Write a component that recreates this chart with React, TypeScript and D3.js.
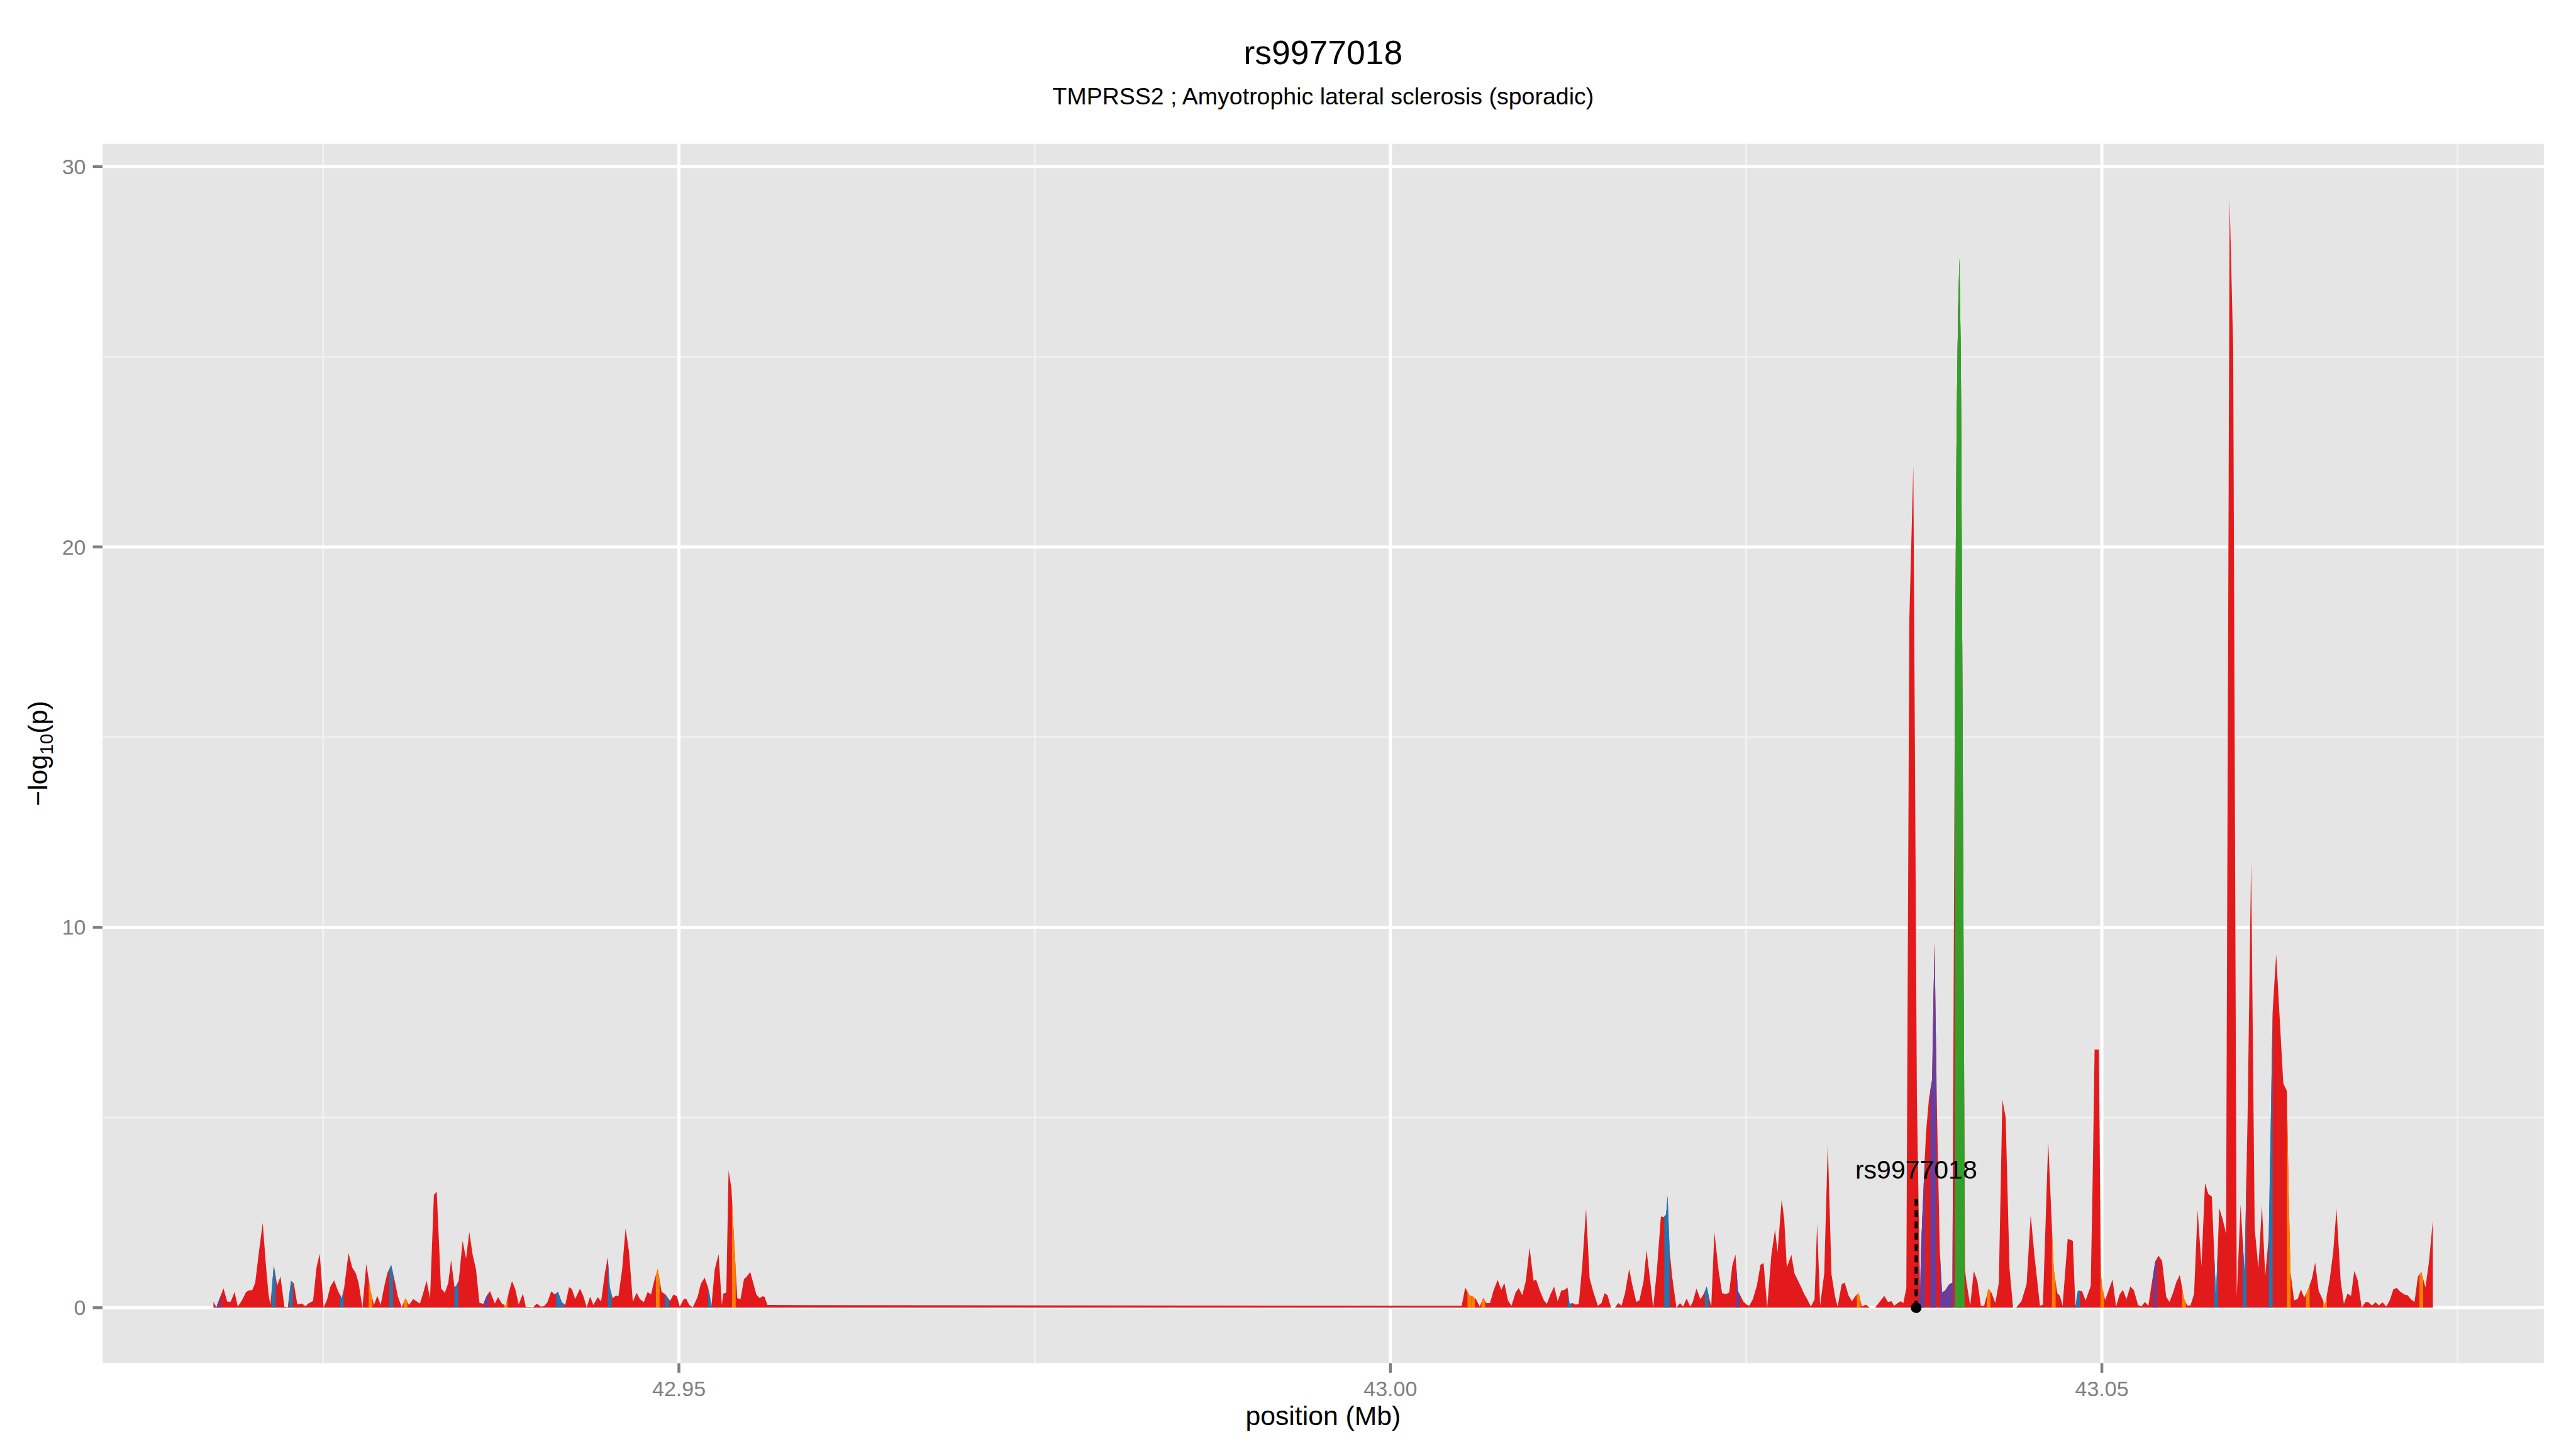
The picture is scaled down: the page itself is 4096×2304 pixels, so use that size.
import React from 'react';
import * as d3 from 'd3';

// ---------------- text & axis constants ----------------
const titleText = 'rs9977018';
const subtitleText = 'TMPRSS2 ; Amyotrophic lateral sclerosis (sporadic)';
const xAxisTitle = 'position (Mb)';
const leadSnpName = 'rs9977018';
const leadSnpPos = 43.03695;
const leadStemTop = 2.88;
const leadLabelY = 3.39;

const xMajorTicks = [42.95, 43.0, 43.05];
const xMinorTicks = [42.925, 42.975, 43.025, 43.075];
const yMajorTicks = [0, 10, 20, 30];
const yMinorTicks = [5, 15, 25];

const ldColours: Record<string, string> = {
  r: '#E31A1C',
  b: '#1F78B4',
  o: '#FF7F00',
  p: '#6A3D9A',
  g: '#33A02C',
};

// ---------------- SNPs: position (Mb), -log10(p), LD class ----------------
const leftCluster: [number, number, string][] = [
  [42.91729, 0.16, 'r'], [42.91749, 0.01, 'r'], [42.91766, 0.18, 'p'], [42.91799, 0.51, 'r'],
  [42.91826, 0.16, 'r'], [42.9185, 0.16, 'r'], [42.91877, 0.41, 'r'], [42.919, 0.03, 'r'],
  [42.91927, 0.18, 'r'], [42.91958, 0.41, 'r'], [42.91981, 0.46, 'r'], [42.92001, 0.46, 'r'],
  [42.92022, 0.65, 'r'], [42.92049, 1.48, 'r'], [42.92075, 2.23, 'r'], [42.92099, 1.05, 'r'],
  [42.92116, 0.35, 'r'], [42.92129, 0.07, 'r'], [42.92153, 1.11, 'b'], [42.92177, 0.58, 'r'],
  [42.922, 0.82, 'r'], [42.92227, 0.03, 'r'], [42.92251, 0.01, 'r'], [42.92274, 0.71, 'b'],
  [42.92294, 0.64, 'r'], [42.92318, 0.09, 'r'], [42.92352, 0.11, 'r'], [42.92375, 0.04, 'r'],
  [42.92395, 0.11, 'r'], [42.92429, 0.18, 'r'], [42.92453, 1.05, 'r'], [42.92476, 1.42, 'r'],
  [42.92503, 0.01, 'r'], [42.92527, 0.21, 'r'], [42.9255, 0.55, 'r'], [42.92577, 0.72, 'r'],
  [42.92604, 0.44, 'r'], [42.92631, 0.25, 'b'], [42.92648, 0.54, 'r'], [42.92678, 1.43, 'r'],
  [42.92705, 1.05, 'r'], [42.92729, 0.91, 'r'], [42.92749, 0.65, 'r'], [42.92776, 0.0, 'r'],
  [42.92803, 1.15, 'r'], [42.92833, 0.44, 'o'], [42.92857, 0.07, 'r'], [42.9288, 0.31, 'r'],
  [42.92904, 0.07, 'r'], [42.92928, 0.54, 'r'], [42.92951, 0.91, 'r'], [42.92978, 1.12, 'b'],
  [42.93002, 0.72, 'r'], [42.93025, 0.3, 'r'], [42.93052, 0.01, 'r'], [42.93079, 0.25, 'o'],
  [42.93103, 0.07, 'r'], [42.93133, 0.23, 'r'], [42.9316, 0.16, 'r'], [42.9318, 0.11, 'r'],
  [42.932, 0.35, 'r'], [42.93227, 0.71, 'r'], [42.93251, 0.24, 'r'], [42.93278, 2.96, 'r'],
  [42.93298, 3.05, 'r'], [42.93328, 0.51, 'r'], [42.93355, 0.39, 'r'], [42.93379, 0.65, 'r'],
  [42.93399, 1.25, 'r'], [42.93423, 0.54, 'r'], [42.93436, 0.58, 'b'], [42.93453, 0.72, 'r'],
  [42.9348, 1.76, 'r'], [42.93504, 1.29, 'r'], [42.93527, 1.99, 'r'], [42.93551, 1.38, 'r'],
  [42.93574, 1.01, 'r'], [42.93598, 0.13, 'r'], [42.93625, 0.1, 'r'], [42.93648, 0.3, 'p'],
  [42.93672, 0.44, 'r'], [42.93706, 0.11, 'r'], [42.93729, 0.28, 'r'], [42.93756, 0.11, 'r'],
  [42.93783, 0.05, 'o'], [42.93807, 0.44, 'r'], [42.93827, 0.7, 'r'], [42.9385, 0.49, 'r'],
  [42.93874, 0.09, 'r'], [42.93904, 0.37, 'r'], [42.93924, 0.02, 'r'], [42.93951, 0.02, 'o'],
  [42.93975, 0.01, 'r'], [42.94002, 0.11, 'r'], [42.94029, 0.03, 'r'], [42.94052, 0.04, 'r'],
  [42.94076, 0.14, 'r'], [42.94103, 0.43, 'r'], [42.94127, 0.35, 'r'], [42.9415, 0.42, 'b'],
  [42.94177, 0.14, 'b'], [42.94201, 0.07, 'r'], [42.94228, 0.54, 'r'], [42.94248, 0.49, 'r'],
  [42.94271, 0.23, 'r'], [42.94305, 0.5, 'r'], [42.94329, 0.3, 'r'], [42.94352, 0.01, 'r'],
  [42.94376, 0.29, 'r'], [42.94399, 0.07, 'r'], [42.9443, 0.28, 'r'], [42.94453, 0.16, 'r'],
  [42.9448, 0.91, 'r'], [42.945, 1.33, 'r'], [42.94514, 0.54, 'b'], [42.94534, 0.25, 'r'],
  [42.94558, 0.32, 'r'], [42.94575, 0.3, 'r'], [42.94601, 1.01, 'r'], [42.94625, 2.08, 'r'],
  [42.94649, 1.48, 'r'], [42.94676, 0.16, 'r'], [42.94703, 0.39, 'r'], [42.94726, 0.23, 'r'],
  [42.94753, 0.14, 'r'], [42.9478, 0.41, 'r'], [42.94804, 0.35, 'r'], [42.94827, 0.72, 'r'],
  [42.94851, 1.02, 'o'], [42.94878, 0.42, 'r'], [42.94905, 0.35, 'r'], [42.94918, 0.28, 'b'],
  [42.94938, 0.18, 'r'], [42.94962, 0.35, 'r'], [42.94986, 0.3, 'r'], [42.95006, 0.03, 'r'],
  [42.95033, 0.22, 'r'], [42.9505, 0.24, 'r'], [42.95073, 0.07, 'r'], [42.95097, 0.01, 'r'],
  [42.95131, 0.28, 'r'], [42.95154, 0.63, 'r'], [42.95181, 0.79, 'r'], [42.95204, 0.54, 'r'],
  [42.95218, 0.3, 'b'], [42.95228, 0.02, 'r'], [42.95252, 1.01, 'r'], [42.95279, 1.41, 'r'],
  [42.95302, 0.07, 'r'], [42.95312, 0.37, 'r'], [42.95333, 0.4, 'r'], [42.95349, 3.61, 'r'],
  [42.95369, 3.14, 'r'], [42.95386, 1.9, 'o'], [42.9541, 0.25, 'r'], [42.95433, 0.23, 'r'],
  [42.95457, 0.75, 'r'], [42.95477, 0.82, 'r'], [42.95501, 0.94, 'r'], [42.95524, 0.63, 'r'],
  [42.95544, 0.35, 'r'], [42.95568, 0.25, 'r'], [42.95585, 0.3, 'r'], [42.95601, 0.29, 'r'],
  [42.95622, 0.07, 'r'],
];

const rightCluster: [number, number, string][] = [
  [43.00501, 0.05, 'r'], [43.00526, 0.53, 'r'], [43.00555, 0.33, 'o'], [43.00581, 0.29, 'o'],
  [43.00602, 0.22, 'r'], [43.00628, 0.03, 'r'], [43.00653, 0.26, 'o'], [43.00674, 0.12, 'r'],
  [43.007, 0.12, 'r'], [43.00725, 0.45, 'r'], [43.00754, 0.73, 'r'], [43.00779, 0.47, 'r'],
  [43.00801, 0.65, 'r'], [43.00826, 0.19, 'r'], [43.00851, 0.05, 'r'], [43.0088, 0.4, 'r'],
  [43.00902, 0.52, 'r'], [43.00927, 0.33, 'r'], [43.00952, 0.71, 'r'], [43.00978, 1.58, 'r'],
  [43.01006, 0.71, 'r'], [43.01024, 0.74, 'r'], [43.0105, 0.45, 'r'], [43.01079, 0.19, 'r'],
  [43.011, 0.1, 'r'], [43.01126, 0.36, 'r'], [43.01151, 0.55, 'r'], [43.01176, 0.17, 'r'],
  [43.01201, 0.45, 'r'], [43.01223, 0.47, 'r'], [43.01245, 0.53, 'r'], [43.01259, 0.1, 'b'],
  [43.01281, 0.12, 'r'], [43.01303, 0.08, 'r'], [43.01324, 0.1, 'r'], [43.01349, 1.13, 'r'],
  [43.01375, 2.61, 'r'], [43.014, 0.78, 'r'], [43.01425, 0.43, 'r'], [43.01458, 0.05, 'r'],
  [43.01483, 0.12, 'r'], [43.01505, 0.38, 'r'], [43.01526, 0.33, 'r'], [43.01551, 0.0, 'r'],
  [43.01577, 0.0, 'r'], [43.01602, 0.12, 'r'], [43.01624, 0.05, 'r'], [43.01649, 0.38, 'r'],
  [43.01678, 1.02, 'r'], [43.01699, 0.62, 'r'], [43.01728, 0.15, 'r'], [43.0175, 0.19, 'r'],
  [43.01779, 0.69, 'r'], [43.018, 1.51, 'r'], [43.01826, 0.71, 'r'], [43.01847, 0.0, 'r'],
  [43.01873, 0.99, 'r'], [43.01901, 2.4, 'r'], [43.0192, 2.38, 'r'], [43.01938, 2.45, 'b'],
  [43.01948, 2.93, 'b'], [43.01963, 1.46, 'r'], [43.01981, 0.8, 'r'], [43.0201, 0.0, 'r'],
  [43.02035, 0.12, 'r'], [43.02057, 0.03, 'r'], [43.02082, 0.24, 'r'], [43.02107, 0.03, 'r'],
  [43.02125, 0.15, 'r'], [43.02151, 0.5, 'r'], [43.02179, 0.22, 'r'], [43.02205, 0.38, 'r'],
  [43.02223, 0.56, 'b'], [43.02241, 0.24, 'r'], [43.02255, 0.03, 'r'], [43.02277, 1.99, 'r'],
  [43.02306, 0.99, 'r'], [43.02331, 0.38, 'r'], [43.0236, 0.36, 'r'], [43.02381, 0.4, 'r'],
  [43.02403, 1.11, 'r'], [43.02425, 1.4, 'r'], [43.02443, 0.43, 'p'], [43.02461, 0.31, 'r'],
  [43.02479, 0.17, 'r'], [43.02504, 0.08, 'r'], [43.02522, 0.05, 'r'], [43.02547, 0.22, 'r'],
  [43.02576, 0.59, 'r'], [43.02601, 1.13, 'r'], [43.02623, 1.17, 'r'], [43.02648, 0.0, 'r'],
  [43.02677, 1.37, 'r'], [43.02703, 2.05, 'r'], [43.02721, 1.46, 'r'], [43.0275, 2.85, 'r'],
  [43.02768, 2.31, 'r'], [43.02786, 1.06, 'r'], [43.02818, 1.39, 'r'], [43.0284, 0.9, 'r'],
  [43.02883, 0.57, 'r'], [43.02908, 0.36, 'r'], [43.0293, 0.22, 'r'], [43.02955, 0.03, 'r'],
  [43.02981, 0.22, 'r'], [43.02999, 2.21, 'r'], [43.0302, 0.05, 'r'], [43.03049, 0.9, 'r'],
  [43.03074, 4.3, 'r'], [43.031, 0.87, 'r'], [43.03125, 0.29, 'r'], [43.03143, 0.03, 'r'],
  [43.03172, 0.62, 'r'], [43.03193, 0.66, 'r'], [43.03219, 0.33, 'r'], [43.03244, 0.17, 'r'],
  [43.03269, 0.31, 'r'], [43.03291, 0.38, 'o'], [43.03313, 0.03, 'r'], [43.03341, 0.08, 'r'],
  [43.0337, 0.0, 'r'], [43.03406, 0.0, 'r'], [43.03442, 0.17, 'r'], [43.03471, 0.31, 'r'],
  [43.03497, 0.15, 'r'], [43.03522, 0.17, 'r'], [43.0354, 0.05, 'r'], [43.03565, 0.12, 'r'],
  [43.03587, 0.17, 'r'], [43.03605, 0.12, 'r'], [43.03626, 0.52, 'r'], [43.03647, 18.1, 'r'],
  [43.03675, 22.13, 'r'], [43.037, 5.55, 'r'], [43.03722, 0.3, 'r'], [43.03729, 1.5, 'p'],
  [43.03745, 3.0, 'p'], [43.03764, 4.58, 'r'], [43.03785, 5.5, 'r'], [43.03807, 6.0, 'p'],
  [43.03824, 9.6, 'p'], [43.03842, 5.0, 'r'], [43.03861, 1.5, 'r'], [43.03877, 0.4, 'p'],
  [43.03899, 0.45, 'p'], [43.03924, 0.6, 'p'], [43.03943, 0.65, 'p'], [43.0395, 0.65, 'r'],
  [43.03968, 17.0, 'r'], [43.0398, 23.5, 'g'], [43.0399, 26.2, 'g'], [43.03999, 27.58, 'g'],
  [43.04009, 25.0, 'g'], [43.04022, 15.0, 'g'], [43.04038, 1.0, 'r'], [43.04049, 0.66, 'r'],
  [43.04075, 0.05, 'r'], [43.041, 0.97, 'r'], [43.04125, 0.7, 'r'], [43.0415, 0.05, 'r'],
  [43.04173, 0.05, 'r'], [43.04204, 0.5, 'o'], [43.04226, 0.38, 'r'], [43.04251, 0.12, 'r'],
  [43.04276, 0.66, 'r'], [43.04301, 5.47, 'r'], [43.04324, 5.0, 'r'], [43.04351, 1.04, 'r'],
  [43.04376, 0.0, 'r'], [43.04399, 0.01, 'r'], [43.04435, 0.17, 'r'], [43.04471, 0.62, 'r'],
  [43.045, 2.44, 'r'], [43.04525, 1.42, 'r'], [43.04565, 0.05, 'r'], [43.04586, 0.08, 'r'],
  [43.04623, 4.37, 'r'], [43.04651, 1.93, 'r'], [43.04662, 1.0, 'o'], [43.04687, 0.38, 'r'],
  [43.04705, 0.31, 'r'], [43.04724, 0.05, 'r'], [43.0476, 1.81, 'r'], [43.04796, 1.76, 'r'],
  [43.04814, 0.03, 'r'], [43.04832, 0.45, 'b'], [43.04861, 0.43, 'r'], [43.04886, 0.19, 'r'],
  [43.04922, 0.57, 'r'], [43.04936, 3.5, 'r'], [43.04949, 6.79, 'r'], [43.04979, 6.79, 'r'],
  [43.04993, 0.9, 'r'], [43.05003, 0.53, 'o'], [43.05023, 0.2, 'r'], [43.05075, 0.74, 'r'],
  [43.051, 0.03, 'r'], [43.05125, 0.35, 'r'], [43.05148, 0.47, 'r'], [43.05173, 0.22, 'r'],
  [43.052, 0.56, 'r'], [43.05225, 0.46, 'r'], [43.05254, 0.07, 'r'], [43.05277, 0.03, 'r'],
  [43.05302, 0.15, 'r'], [43.05327, 0.05, 'r'], [43.0535, 0.62, 'r'], [43.05375, 1.21, 'p'],
  [43.05398, 1.37, 'r'], [43.05423, 1.23, 'r'], [43.05452, 0.29, 'r'], [43.05475, 0.15, 'r'],
  [43.055, 0.39, 'r'], [43.05523, 0.67, 'r'], [43.05548, 0.86, 'r'], [43.05577, 0.24, 'o'],
  [43.056, 0.06, 'r'], [43.05623, 0.06, 'r'], [43.05648, 0.36, 'r'], [43.05673, 2.57, 'r'],
  [43.057, 1.09, 'r'], [43.05725, 3.28, 'r'], [43.05748, 2.99, 'r'], [43.05773, 2.92, 'r'],
  [43.05802, 0.3, 'b'], [43.05825, 2.62, 'r'], [43.0585, 2.31, 'r'], [43.05873, 1.94, 'r'],
  [43.05898, 29.14, 'r'], [43.05923, 25.2, 'r'], [43.05948, 0.3, 'r'], [43.05975, 2.71, 'r'],
  [43.06003, 0.9, 'b'], [43.06024, 5.0, 'r'], [43.06049, 11.73, 'r'], [43.06074, 2.08, 'r'],
  [43.061, 1.04, 'r'], [43.06125, 2.69, 'r'], [43.06148, 0.83, 'r'], [43.06173, 1.87, 'r'],
  [43.06187, 4.8, 'b'], [43.062, 7.77, 'r'], [43.06225, 9.3, 'r'], [43.0625, 7.6, 'r'],
  [43.06275, 5.9, 'r'], [43.063, 5.7, 'r'], [43.06313, 3.0, 'o'], [43.06325, 0.95, 'r'],
  [43.06351, 0.19, 'r'], [43.06376, 0.23, 'r'], [43.06399, 0.48, 'r'], [43.06422, 0.27, 'r'],
  [43.06447, 0.46, 'o'], [43.06476, 0.76, 'r'], [43.06499, 1.19, 'r'], [43.06524, 0.44, 'r'],
  [43.06549, 0.24, 'r'], [43.06568, 0.06, 'o'], [43.06601, 0.74, 'r'], [43.06626, 1.47, 'r'],
  [43.06649, 2.6, 'r'], [43.06678, 0.71, 'r'], [43.06701, 0.1, 'r'], [43.06726, 0.37, 'r'],
  [43.06751, 0.31, 'r'], [43.06774, 0.97, 'r'], [43.06799, 0.71, 'r'], [43.06826, 0.0, 'r'],
  [43.06851, 0.14, 'r'], [43.0687, 0.15, 'r'], [43.06899, 0.06, 'r'], [43.06924, 0.14, 'r'],
  [43.06947, 0.06, 'r'], [43.06972, 0.14, 'r'], [43.06999, 0.03, 'r'], [43.07024, 0.2, 'r'],
  [43.07049, 0.49, 'r'], [43.07072, 0.52, 'r'], [43.07101, 0.41, 'r'], [43.0713, 0.34, 'r'],
  [43.07149, 0.33, 'r'], [43.07172, 0.22, 'r'], [43.07197, 0.15, 'r'], [43.07222, 0.83, 'r'],
  [43.07245, 0.94, 'o'], [43.07274, 0.53, 'r'], [43.07299, 1.21, 'r'], [43.07326, 2.29, 'r'],
];

// ---------------- layout (px at 4800-wide reference, scaled) ----------------
const S = 4096 / 4800;
const W = 4096;
const H = 2304;
const panel = { left: 191 * S, right: 4740 * S, top: 268 * S, bottom: 2540 * S };
const FONT = '"Liberation Sans", Arial, Helvetica, sans-serif';
const stripeWidthMb = 0.00026;

type Pt = { pos: number; val: number; cls: string };

export default function App() {
  const pts: Pt[] = [...leftCluster, ...rightCluster]
    .map(([pos, val, cls]) => ({ pos, val, cls }))
    .sort((a, b) => a.pos - b.pos);

  const xExt = d3.extent(pts, (d) => d.pos) as [number, number];
  const xPad = (xExt[1] - xExt[0]) * 0.05;
  const yMax = d3.max(pts, (d) => d.val) as number;
  const yPad = yMax * 0.05;

  const x = d3.scaleLinear().domain([xExt[0] - xPad, xExt[1] + xPad]).range([panel.left, panel.right]);
  const y = d3.scaleLinear().domain([-yPad, yMax + yPad]).range([panel.bottom, panel.top]);

  const area = d3
    .area<Pt>()
    .x((d) => x(d.pos))
    .y0(y(0))
    .y1((d) => y(d.val));

  const bis = d3.bisector((d: Pt) => d.pos).left;
  const env = (p: number) => {
    const i = bis(pts, p);
    if (i <= 0) return pts[0].val;
    if (i >= pts.length) return pts[pts.length - 1].val;
    const a = pts[i - 1];
    const b = pts[i];
    const t = (p - a.pos) / (b.pos - a.pos);
    return a.val + t * (b.val - a.val);
  };

  const stripes = pts
    .filter((d) => d.cls !== 'r')
    .map((d, k) => {
      const l = d.pos - stripeWidthMb / 2;
      const r = d.pos + stripeWidthMb / 2;
      const inner = pts.filter((q) => q.pos > l && q.pos < r);
      const poly: Pt[] = [{ pos: l, val: env(l), cls: d.cls }, ...inner, { pos: r, val: env(r), cls: d.cls }];
      return { key: k, cls: d.cls, d: area(poly) as string };
    });

  const tickCol = '#7F7F7F';
  const tickLen = 18 * S;
  const majorW = 5;
  const minorW = 2.6;
  const cy = (panel.top + panel.bottom) / 2;
  const cx = (panel.left + panel.right) / 2;

  return (
    <svg width={W} height={H} style={{ position: 'absolute', left: 0, top: 0, background: '#fff' }} fontFamily={FONT}>
      <rect x={0} y={0} width={W} height={H} fill="#fff" />
      {/* titles */}
      <text x={cx} y={120 * S} textAnchor="middle" fontSize={53.5} fill="#000">
        {titleText}
      </text>
      <text x={cx} y={195 * S} textAnchor="middle" fontSize={37.5} fill="#000">
        {subtitleText}
      </text>

      {/* panel */}
      <rect x={panel.left} y={panel.top} width={panel.right - panel.left} height={panel.bottom - panel.top} fill="#E5E5E5" />
      {xMinorTicks.map((t) => (
        <line key={'xm' + t} x1={x(t)} x2={x(t)} y1={panel.top} y2={panel.bottom} stroke="#F2F2F2" strokeWidth={minorW} />
      ))}
      {yMinorTicks.map((t) => (
        <line key={'ym' + t} x1={panel.left} x2={panel.right} y1={y(t)} y2={y(t)} stroke="#F2F2F2" strokeWidth={minorW} />
      ))}
      {xMajorTicks.map((t) => (
        <line key={'xM' + t} x1={x(t)} x2={x(t)} y1={panel.top} y2={panel.bottom} stroke="#FFFFFF" strokeWidth={majorW} />
      ))}
      {yMajorTicks.map((t) => (
        <line key={'yM' + t} x1={panel.left} x2={panel.right} y1={y(t)} y2={y(t)} stroke="#FFFFFF" strokeWidth={majorW} />
      ))}

      {/* association signal */}
      <path d={area(pts) as string} fill={ldColours.r} />
      {stripes.map((s) => (
        <path key={'st' + s.key} d={s.d} fill={ldColours[s.cls]} />
      ))}

      {/* lead SNP marker */}
      <line
        x1={x(leadSnpPos)}
        x2={x(leadSnpPos)}
        y1={y(0)}
        y2={y(leadStemTop)}
        stroke="#000"
        strokeWidth={5}
        strokeDasharray="11 7"
      />
      <circle cx={x(leadSnpPos)} cy={y(0)} r={8.5} fill="#000" />
      <text x={x(leadSnpPos)} y={y(leadLabelY)} textAnchor="middle" fontSize={41} fill="#000">
        {leadSnpName}
      </text>

      {/* x axis */}
      {xMajorTicks.map((t) => (
        <g key={'xt' + t}>
          <line x1={x(t)} x2={x(t)} y1={panel.bottom} y2={panel.bottom + tickLen} stroke={tickCol} strokeWidth={4.5} />
          <text x={x(t)} y={2601.7 * S} textAnchor="middle" fontSize={34} fill={tickCol}>
            {d3.format('.2f')(t)}
          </text>
        </g>
      ))}
      <text x={cx} y={2655 * S} textAnchor="middle" fontSize={42.7} fill="#000">
        {xAxisTitle}
      </text>

      {/* y axis */}
      {yMajorTicks.map((t) => (
        <g key={'yt' + t}>
          <line x1={panel.left - tickLen} x2={panel.left} y1={y(t)} y2={y(t)} stroke={tickCol} strokeWidth={4.5} />
          <text x={160 * S} y={y(t)} textAnchor="end" dominantBaseline="central" fontSize={34} fill={tickCol}>
            {t}
          </text>
        </g>
      ))}
      <text transform={`translate(${88 * S},${cy}) rotate(-90)`} textAnchor="middle" fontSize={42.7} fill="#000">
        <tspan>−log</tspan>
        <tspan fontSize={30} dy={9}>10</tspan>
        <tspan dy={-9}>(p)</tspan>
      </text>
    </svg>
  );
}
